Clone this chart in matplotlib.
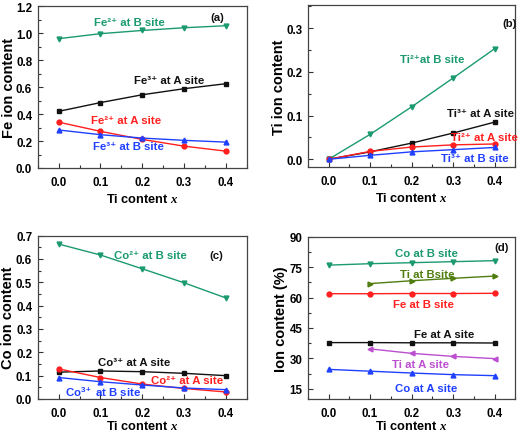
import matplotlib
matplotlib.use("Agg")
import matplotlib.pyplot as plt
from matplotlib.ticker import MultipleLocator, FormatStrFormatter

plt.rcParams['font.family'] = ['Liberation Sans', 'DejaVu Sans']
plt.rcParams['font.weight'] = 'bold'
plt.rcParams['mathtext.fontset'] = 'custom'
plt.rcParams['mathtext.rm'] = 'Liberation Sans:bold'
plt.rcParams['mathtext.bf'] = 'Liberation Sans:bold'
plt.rcParams['mathtext.it'] = 'Liberation Serif:italic'
plt.rcParams['mathtext.default'] = 'bf'

# ---- data ----
x = [0.0, 0.1, 0.2, 0.3, 0.4]
x_ti = [0.1, 0.2, 0.3, 0.4]

fe2_B = [0.959, 0.996, 1.020, 1.040, 1.055]
fe3_A = [0.420, 0.485, 0.543, 0.588, 0.625]
fe2_A = [0.340, 0.272, 0.212, 0.162, 0.125]
fe3_B = [0.282, 0.247, 0.222, 0.205, 0.192]

ti2_B = [0.0, 0.057, 0.120, 0.186, 0.253]
ti3_A = [0.0, 0.017, 0.037, 0.060, 0.085]
ti2_A = [0.0, 0.018, 0.028, 0.033, 0.035]
ti3_B = [0.0, 0.009, 0.017, 0.022, 0.027]

co2_B = [0.664, 0.617, 0.558, 0.498, 0.433]
co3_A = [0.115, 0.120, 0.117, 0.110, 0.100]
co2_A = [0.129, 0.092, 0.064, 0.045, 0.030]
co3_B = [0.092, 0.074, 0.060, 0.047, 0.040]

coB_pct = [76.0, 76.7, 77.2, 77.7, 78.2]
tiB_pct = [66.9, 68.3, 69.5, 70.6]
feB_pct = [61.9, 61.9, 62.0, 62.0, 62.1]
feA_pct = [37.8, 37.8, 37.7, 37.7, 37.6]
tiA_pct = [34.7, 32.5, 31.0, 29.9]
coA_pct = [24.6, 23.7, 22.8, 22.0, 21.5]

GREEN = '#1b9a6e'
RED = '#ff1f1f'
BLUE = '#2040ff'
BLACK = '#111111'
OLIVE = '#4f7d10'
PURPLE = '#bb4fd0'

fig = plt.figure(figsize=(5.2, 4.35), dpi=100)
axa = fig.add_axes([0.0725, 0.6115, 0.402, 0.372])
axb = fig.add_axes([0.592, 0.6135, 0.399, 0.3725])
axc = fig.add_axes([0.0725, 0.0805, 0.402, 0.3755])
axd = fig.add_axes([0.592, 0.0805, 0.399, 0.373])

def style(ax, ylabel, major, minor, fmt, ylx, xly):
    ax.set_xlim(-0.05, 0.45)
    ax.xaxis.set_major_locator(MultipleLocator(0.1))
    ax.xaxis.set_minor_locator(MultipleLocator(0.05))
    ax.xaxis.set_major_formatter(FormatStrFormatter('%.1f'))
    ax.yaxis.set_major_locator(MultipleLocator(major))
    ax.yaxis.set_minor_locator(MultipleLocator(minor))
    ax.yaxis.set_major_formatter(FormatStrFormatter(fmt))
    ax.tick_params(which='both', direction='in', labelsize=8.3, width=0.8, color='#333333')
    ax.tick_params(which='major', length=3.5)
    ax.tick_params(which='minor', length=2)
    ax.tick_params(axis='x', which='major', pad=6)
    ax.tick_params(axis='y', which='major', pad=4)
    for lab in ax.get_xticklabels() + ax.get_yticklabels():
        lab.set_fontweight('bold')
    for s in ax.spines.values():
        s.set_color('#444444')
        s.set_linewidth(0.9)
    ax.set_xlabel(r'Ti content $\mathit{x}$', fontsize=9.2, fontweight='bold')
    ax.set_ylabel(ylabel, fontsize=10.5, fontweight='bold')
    ax.yaxis.set_label_coords(ylx, 0.5)
    ax.xaxis.set_label_coords(0.5, xly)

def line(ax, xs, ys, c, m):
    ax.plot(xs, ys, color=c, marker=m, markersize=3.5, linewidth=1.0)

fs = 8.2

# (a)
line(axa, x, fe2_B, GREEN, 'v')
line(axa, x, fe3_A, BLACK, 's')
line(axa, x, fe2_A, RED, 'o')
line(axa, x, fe3_B, BLUE, '^')
axa.set_ylim(0, 1.2)
style(axa, 'Fe ion content', 0.2, 0.1, '%.1f', -0.104, -0.148)
axa.text(0.085, 1.082, 'Fe²⁺ at B site', color=GREEN, fontsize=fs, va='center')
axa.text(0.181, 0.652, 'Fe³⁺ at A site', color=BLACK, fontsize=fs, va='center')
axa.text(0.078, 0.359, 'Fe²⁺ at A site', color=RED, fontsize=fs, va='center')
axa.text(0.083, 0.165, 'Fe³⁺ at B site', color=BLUE, fontsize=fs, va='center')
axa.text(0.362, 1.121, '(a)', color=BLACK, fontsize=fs, va='center')

# (b)
line(axb, x, ti2_B, GREEN, 'v')
line(axb, x, ti3_A, BLACK, 's')
line(axb, x, ti2_A, RED, 'o')
line(axb, x, ti3_B, BLUE, '^')
axb.set_ylim(-0.018, 0.353)
style(axb, 'Ti ion content', 0.1, 0.05, '%.1f', -0.105, -0.148)
axb.text(0.172, 0.229, 'Ti²⁺at B site', color=GREEN, fontsize=fs, va='center')
axb.text(0.285, 0.107, 'Ti³⁺ at A site', color=BLACK, fontsize=fs, va='center')
axb.text(0.295, 0.050, 'Ti²⁺ at A site', color=RED, fontsize=fs, va='center')
axb.text(0.270, 0.003, 'Ti³⁺ at B site', color=BLUE, fontsize=fs, va='center')
axb.text(0.42, 0.313, '(b)', color=BLACK, fontsize=fs, va='center')

# (c)
line(axc, x, co2_B, GREEN, 'v')
line(axc, x, co3_A, BLACK, 's')
line(axc, x, co2_A, RED, 'o')
line(axc, x, co3_B, BLUE, '^')
axc.set_ylim(0, 0.7)
style(axc, 'Co ion content', 0.1, 0.05, '%.1f', -0.11, -0.125)
axc.text(0.132, 0.615, 'Co²⁺ at B site', color=GREEN, fontsize=fs, va='center')
axc.text(0.094, 0.159, 'Co³⁺ at A site', color=BLACK, fontsize=fs, va='center')
axc.text(0.221, 0.083, 'Co²⁺ at A site', color=RED, fontsize=fs, va='center')
axc.text(0.016, 0.033, r'Co$^{3+}$ at B site', color=BLUE, fontsize=fs, va='center')
axc.text(0.36, 0.618, '(c)', color=BLACK, fontsize=fs, va='center')

# (d)
line(axd, x, coB_pct, GREEN, 'v')
line(axd, x_ti, tiB_pct, OLIVE, '>')
line(axd, x, feB_pct, RED, 'o')
line(axd, x, feA_pct, BLACK, 's')
line(axd, x_ti, tiA_pct, PURPLE, '<')
line(axd, x, coA_pct, BLUE, '^')
axd.set_ylim(10, 90)
style(axd, 'Ion content (%)', 15, 7.5, '%d', -0.095, -0.125)
axd.text(0.16, 82.0, 'Co at B site', color=GREEN, fontsize=fs, va='center')
axd.text(0.172, 71.6, 'Ti at Bsite', color=OLIVE, fontsize=fs, va='center')
axd.text(0.155, 56.8, 'Fe at B site', color=RED, fontsize=fs, va='center')
axd.text(0.205, 42.0, 'Fe at A site', color=BLACK, fontsize=fs, va='center')
axd.text(0.152, 27.3, 'Ti at A site', color=PURPLE, fontsize=fs, va='center')
axd.text(0.16, 15.5, 'Co at A site', color=BLUE, fontsize=fs, va='center')
axd.text(0.40, 84.7, '(d)', color=BLACK, fontsize=fs, va='center')

fig.savefig('out.png', dpi=100)
